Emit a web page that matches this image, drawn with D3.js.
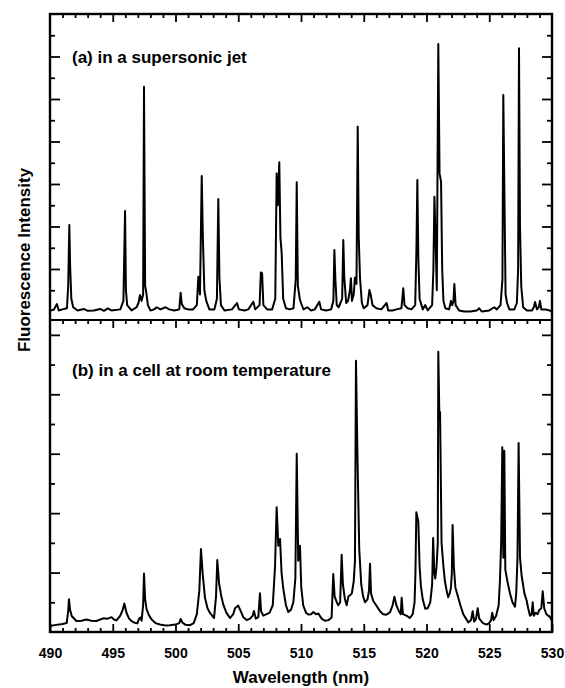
<!DOCTYPE html>
<html><head><meta charset="utf-8">
<script src="https://cdn.jsdelivr.net/npm/d3@7/dist/d3.min.js"></script>
<style>
html,body{margin:0;padding:0;background:#fff;}
svg{display:block;}
text{font-family:"Liberation Sans",Arial,Helvetica,sans-serif;}
</style></head>
<body>
<svg id="chart" width="565" height="688"></svg>
<script>
// ---------- DATA ----------
const xTickMajor = [490, 495, 500, 505, 510, 515, 520, 525, 530];
const xTickMinor = d3.range(491, 530).filter(d => d % 5 !== 0);
const yTicksA = [1,2,3,4,5,6,7,8,9,10,11,12,13];
const yTicksB = [1,2,3,4,5,6,7,8,9,10];
const labelA = "(a) in a supersonic jet";
const labelB = "(b) in a cell at room temperature";
const xTitle = "Wavelength (nm)";
const yTitle = "Fluorescence Intensity";

// (a) supersonic jet: [wavelength nm, intensity]
const jetSpectrum = [
[490.0,0.05],[490.3,0.08],[490.55,0.35],[490.7,0.05],[491.0,0.1],[491.35,0.15],[491.45,1.2],[491.54,4.07],[491.6,2.2],[491.7,0.6],[491.85,0.2],[492.2,0.05],[492.7,0.12],[493.0,0.03],[493.5,0.05],[494.0,0.12],[494.3,0.03],[494.6,0.15],[494.9,0.05],[495.6,0.1],[495.85,0.5],[495.98,4.73],[496.05,1.0],[496.15,0.3],[496.5,0.05],[496.9,0.2],[497.05,0.4],[497.17,0.78],[497.3,0.5],[497.42,0.8],[497.49,10.58],[497.58,1.2],[497.68,0.87],[497.8,0.3],[498.0,0.05],[498.3,0.1],[498.5,0.2],[498.8,0.1],[499.2,0.2],[499.5,0.1],[499.9,0.05],[500.3,0.1],[500.41,0.88],[500.5,0.35],[500.7,0.15],[501.0,0.1],[501.4,0.1],[501.7,0.3],[501.82,1.63],[501.95,0.8],[502.09,6.38],[502.18,3.5],[502.3,1.0],[502.45,0.5],[502.7,0.1],[503.1,0.1],[503.3,0.6],[503.41,5.29],[503.5,1.6],[503.62,0.3],[503.9,0.05],[504.5,0.1],[504.9,0.4],[505.05,0.1],[505.5,0.05],[505.8,0.1],[506.2,0.46],[506.35,0.1],[506.7,0.3],[506.8,1.84],[506.9,1.8],[507.0,0.3],[507.3,0.1],[507.7,0.1],[507.95,0.6],[508.06,6.5],[508.15,5.0],[508.27,7.02],[508.36,3.5],[508.46,2.75],[508.58,0.6],[508.8,0.15],[509.1,0.1],[509.4,0.15],[509.58,1.5],[509.66,6.08],[509.75,1.2],[509.9,0.6],[510.0,0.4],[510.2,0.1],[510.5,0.2],[510.8,0.05],[511.1,0.1],[511.46,0.46],[511.6,0.1],[512.0,0.05],[512.4,0.1],[512.58,0.5],[512.66,2.89],[512.74,1.5],[512.85,0.3],[513.0,0.2],[513.28,0.6],[513.37,3.36],[513.45,1.6],[513.6,0.4],[513.75,0.5],[513.9,1.0],[513.98,1.56],[514.06,0.5],[514.2,0.8],[514.3,1.6],[514.42,1.3],[514.52,8.7],[514.6,3.5],[514.7,1.6],[514.85,0.4],[515.0,0.15],[515.3,0.3],[515.45,1.01],[515.55,0.8],[515.7,0.3],[516.0,0.15],[516.4,0.1],[516.82,0.4],[516.95,0.05],[517.3,0.05],[517.6,0.1],[518.0,0.15],[518.15,1.09],[518.25,0.3],[518.5,0.15],[518.8,0.1],[519.1,0.3],[519.2,3.0],[519.27,6.19],[519.35,2.5],[519.45,0.6],[519.7,0.1],[519.9,0.3],[520.1,0.05],[520.45,0.3],[520.55,2.0],[520.63,5.4],[520.72,3.5],[520.82,1.0],[520.94,12.59],[521.04,6.5],[521.16,6.11],[521.25,2.0],[521.35,0.5],[521.5,0.15],[521.8,0.1],[521.95,0.5],[522.05,0.3],[522.15,0.5],[522.22,1.29],[522.32,0.3],[522.6,0.05],[523.0,0.0],[523.5,0.0],[524.0,0.05],[524.2,0.15],[524.4,0.0],[525.0,0.05],[525.4,0.2],[525.6,0.1],[525.9,0.3],[526.05,1.5],[526.12,10.19],[526.2,6.0],[526.3,0.8],[526.42,0.4],[526.6,0.1],[527.0,0.1],[527.2,0.4],[527.3,2.0],[527.37,12.39],[527.45,4.0],[527.55,1.2],[527.7,0.2],[528.0,0.05],[528.4,0.05],[528.55,0.2],[528.65,0.45],[528.8,0.1],[528.95,0.2],[529.04,0.5],[529.15,0.1],[529.5,0.1],[529.8,0.05],[530.0,0.0]
];

// (b) cell at room temperature: [wavelength nm, intensity]
const cellSpectrum = [
[490.0,0.2],[490.5,0.24],[491.0,0.27],[491.33,0.3],[491.45,0.7],[491.51,1.1],[491.6,0.75],[491.73,0.54],[492.1,0.37],[492.5,0.38],[492.9,0.42],[493.3,0.38],[493.7,0.37],[494.0,0.42],[494.25,0.46],[494.6,0.45],[494.9,0.5],[495.1,0.42],[495.3,0.39],[495.6,0.55],[495.8,0.75],[495.92,0.96],[496.1,0.64],[496.3,0.45],[496.5,0.37],[496.8,0.3],[496.96,0.29],[497.1,0.45],[497.2,0.49],[497.3,0.38],[497.42,0.9],[497.49,1.97],[497.58,1.1],[497.7,0.76],[497.9,0.55],[498.1,0.42],[498.4,0.3],[498.76,0.25],[499.2,0.22],[499.56,0.23],[500.0,0.25],[500.3,0.3],[500.41,0.44],[500.55,0.32],[500.8,0.24],[501.16,0.23],[501.45,0.3],[501.7,0.6],[501.9,1.4],[502.03,2.79],[502.17,1.94],[502.35,1.15],[502.55,0.8],[502.75,0.64],[503.07,0.47],[503.23,1.2],[503.33,2.42],[503.47,1.65],[503.65,1.2],[503.81,0.92],[504.05,0.65],[504.34,0.47],[504.6,0.6],[504.74,0.8],[505.0,0.89],[505.2,0.7],[505.4,0.5],[505.67,0.4],[505.95,0.45],[506.15,0.55],[506.25,0.71],[506.4,0.45],[506.6,0.5],[506.73,1.3],[506.82,0.7],[507.0,0.55],[507.26,0.6],[507.5,0.65],[507.75,0.9],[507.93,2.2],[508.06,4.2],[508.19,2.9],[508.33,3.13],[508.45,2.0],[508.59,1.45],[508.8,0.9],[508.99,0.67],[509.2,0.75],[509.39,1.0],[509.55,1.8],[509.66,6.0],[509.78,2.4],[509.92,2.9],[510.02,1.5],[510.18,0.89],[510.4,0.65],[510.58,0.59],[510.8,0.6],[510.98,0.67],[511.2,0.6],[511.38,0.62],[511.65,0.45],[511.9,0.38],[512.2,0.4],[512.44,0.49],[512.57,1.95],[512.68,1.2],[512.85,1.0],[512.97,0.9],[513.12,1.0],[513.24,2.6],[513.34,1.6],[513.5,1.1],[513.64,0.9],[513.78,1.2],[513.9,1.23],[514.05,1.3],[514.2,1.7],[514.3,2.4],[514.38,9.13],[514.5,5.9],[514.64,2.8],[514.8,1.6],[514.95,1.2],[515.1,1.0],[515.3,1.1],[515.42,1.4],[515.5,2.3],[515.58,1.3],[515.75,1.05],[516.0,0.89],[516.3,0.7],[516.55,0.6],[516.8,0.58],[517.1,0.67],[517.3,0.9],[517.44,1.19],[517.6,0.9],[517.8,0.7],[517.95,0.6],[518.02,1.15],[518.12,0.6],[518.4,0.55],[518.68,0.47],[518.9,0.6],[519.05,1.0],[519.12,2.0],[519.19,4.03],[519.35,3.7],[519.45,2.2],[519.55,1.56],[519.7,1.1],[519.9,0.78],[520.1,0.8],[520.3,1.0],[520.45,1.6],[520.53,3.16],[520.62,2.0],[520.7,1.8],[520.8,2.2],[520.9,3.0],[520.94,9.43],[521.02,7.4],[521.08,7.4],[521.2,3.0],[521.35,2.2],[521.47,1.7],[521.6,1.4],[521.73,1.17],[521.85,1.3],[521.95,1.5],[522.02,2.0],[522.08,3.6],[522.18,2.2],[522.3,1.5],[522.5,1.2],[522.7,0.9],[522.93,0.6],[523.15,0.45],[523.33,0.32],[523.55,0.4],[523.68,0.7],[523.8,0.35],[523.95,0.45],[524.08,0.8],[524.2,0.45],[524.5,0.3],[524.79,0.25],[525.0,0.3],[525.15,0.4],[525.24,0.65],[525.35,0.4],[525.55,0.55],[525.75,0.9],[525.85,1.7],[525.95,3.0],[526.04,6.22],[526.12,2.5],[526.2,6.1],[526.28,2.1],[526.45,1.7],[526.65,1.3],[526.85,1.0],[527.05,0.85],[527.15,1.3],[527.25,2.5],[527.34,6.36],[527.45,2.5],[527.58,1.9],[527.8,1.3],[527.98,1.06],[528.1,0.8],[528.25,0.55],[528.38,0.6],[528.46,1.0],[528.55,0.55],[528.7,0.65],[528.85,0.6],[529.0,0.75],[529.15,0.8],[529.26,1.37],[529.38,0.8],[529.55,0.6],[529.7,0.55],[529.85,0.5],[530.0,0.37]
];

// ---------- LAYOUT ----------
const L = 50, R = 552, T = 14, MID = 320, B = 632;
const svg = d3.select("#chart");
const x = d3.scaleLinear().domain([490, 530]).range([L, R]);
const yA = d3.scaleLinear().domain([-0.4, 14]).range([MID, T]);
const yB = d3.scaleLinear().domain([0, 10.5]).range([B, MID]);
const FONT = '"Liberation Sans",Arial,Helvetica,sans-serif';

function styleAxis(g){
  g.select(".domain").remove();
  g.selectAll(".tick line").attr("stroke","#000").attr("stroke-width",1.8);
}

// x ticks: bottom (labels), top, middle
svg.append("g").attr("transform",`translate(0,${B})`)
  .call(d3.axisBottom(x).tickValues(xTickMajor).tickSize(-8).tickPadding(16).tickFormat(d3.format("d")))
  .call(styleAxis)
  .call(g=>g.selectAll("text").attr("font-size",14).attr("font-weight","bold").attr("font-family",FONT).attr("fill","#000"));
svg.append("g").attr("transform",`translate(0,${B})`)
  .call(d3.axisBottom(x).tickValues(xTickMinor).tickSize(-4).tickFormat(""))
  .call(styleAxis);
[T, MID].forEach(yy=>{
  svg.append("g").attr("transform",`translate(0,${yy})`)
    .call(d3.axisTop(x).tickValues(xTickMajor.slice(1,-1)).tickSize(-8).tickFormat(""))
    .call(styleAxis);
  svg.append("g").attr("transform",`translate(0,${yy})`)
    .call(d3.axisTop(x).tickValues(xTickMinor).tickSize(-4).tickFormat(""))
    .call(styleAxis);
});

// y ticks
function yTicks(scale, vals){
  const maj = vals.filter(v=>v%2===0), mnr = vals.filter(v=>v%2!==0);
  [[maj,10],[mnr,5]].forEach(([vv,len])=>{
    svg.append("g").attr("transform",`translate(${L},0)`)
      .call(d3.axisLeft(scale).tickValues(vv).tickSize(-len).tickFormat(""))
      .call(styleAxis);
    svg.append("g").attr("transform",`translate(${R},0)`)
      .call(d3.axisRight(scale).tickValues(vv).tickSize(-len).tickFormat(""))
      .call(styleAxis);
  });
}
yTicks(yA, yTicksA);
yTicks(yB, yTicksB);

// spectra
const lineA = d3.line().x(d=>x(d[0])).y(d=>yA(d[1]));
const lineB = d3.line().x(d=>x(d[0])).y(d=>yB(d[1]));
svg.append("path").datum(jetSpectrum).attr("d",lineA)
  .attr("fill","none").attr("stroke","#000").attr("stroke-width",2).attr("stroke-linejoin","round");
svg.append("path").datum(cellSpectrum).attr("d",lineB)
  .attr("fill","none").attr("stroke","#000").attr("stroke-width",2).attr("stroke-linejoin","round");

// frame
svg.append("rect").attr("x",L).attr("y",T).attr("width",R-L).attr("height",B-T)
  .attr("fill","none").attr("stroke","#000").attr("stroke-width",2.4);
svg.append("line").attr("x1",L).attr("x2",R).attr("y1",MID).attr("y2",MID)
  .attr("stroke","#000").attr("stroke-width",2.2);

// texts
svg.append("text").attr("x",72).attr("y",63).attr("font-size",17).attr("font-weight","bold").text(labelA);
svg.append("text").attr("x",72).attr("y",376).attr("font-size",17).attr("font-weight","bold").text(labelB);
svg.append("text").attr("x",(L+R)/2).attr("y",683).attr("text-anchor","middle")
  .attr("font-size",17).attr("font-weight","bold").text(xTitle);
svg.append("text").attr("transform","translate(30,260) rotate(-90)").attr("text-anchor","middle")
  .attr("font-size",17).attr("font-weight","bold").text(yTitle);
</script>
</body></html>
